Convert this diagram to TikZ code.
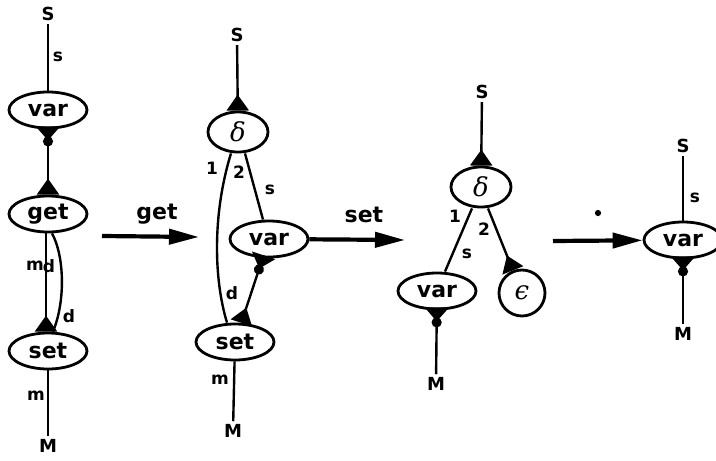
\documentclass[tikz,border=0pt]{standalone}
\usepackage{fontspec}
\setmainfont{DejaVu Sans}
\newfontfamily\grk{DejaVu Serif}
\usetikzlibrary{arrows.meta,shapes.geometric}
\tikzset{
  outtip/.tip={Circle[length=10pt,sep=-4pt] Triangle[reversed,width=24pt,length=14pt,sep=-3pt]},
  intip/.tip={Triangle[reversed,width=22pt,length=16pt]},
}
\begin{document}
\begin{tikzpicture}[x=1pt,y=-1pt,
  ell/.style={ellipse,draw,line width=2.8pt,minimum width=78pt,minimum height=36pt,inner sep=0pt,font=\fontsize{22}{24}\selectfont\bfseries},
  dell/.style={ell,minimum width=60pt,minimum height=40pt,font=\fontsize{26}{28}\selectfont\grk\itshape},
  ext/.style={inner sep=3pt,font=\fontsize{18}{20}\selectfont\bfseries},
  lab/.style={inner sep=0pt,font=\fontsize{17}{19}\selectfont\bfseries},
  wire/.style={line width=2.4pt},
  big/.style={line width=4.2pt,-{Triangle[width=15pt,length=30pt]}},
  blab/.style={inner sep=0pt,font=\fontsize{22}{24}\selectfont\bfseries},
]
\useasboundingbox (0,0) rectangle (716,461);
% ---------------- diagram 1
\node[ext] (S1) at (48,14) {S};
\node[ell] (var1) at (48,110) {var};
\node[ell] (get1) at (48,214) {get};
\node[ell] (set1) at (48,351) {set};
\node[ext] (M1) at (48,446) {M};
\draw[wire] (S1) -- (var1);
\draw[wire,outtip-intip] (var1) -- (get1);
\draw[wire,-intip] ([xshift=-2pt]get1.south) -- ([xshift=-2pt]set1.north);
\draw[wire] ([xshift=4pt]get1.south) .. controls (64,255) and (66,300) .. ([xshift=5pt]set1.north);
\draw[wire] (set1) -- (M1);
\node[lab] (l1s) at (58,57) {s};
\node[lab] (l1m) at (35,266) {m};
\node[lab] (l1d) at (49,266) {d};
\node[lab] (l1d2) at (69,316) {d};
\node[lab] (l1m2) at (36,396) {m};
% arrow get
\coordinate (g0) at (102,236);
\coordinate (g1) at (199,237);
\draw[big] (g0) -- (g1);
\node[blab] (lget) at (157,214) {get};
% ---------------- diagram 2
\node[ext] (S2) at (237,35) {S};
\node[dell] (d2) at (238,132) {δ};
\node[ell] (var2) at (269,239) {var};
\node[ell] (set2) at (235,342) {set};
\node[ext] (M2) at (233,431) {M};
\draw[wire,-intip] (S2) -- (d2);
\draw[wire] ([xshift=-7pt]d2.south) .. controls (212,215) and (214,280) .. ([xshift=-8pt]set2.north);
\draw[wire] ([xshift=7pt]d2.south) -- ([xshift=-6pt]var2.north);
\draw[wire,outtip-intip] (var2) -- (set2);
\draw[wire] (set2) -- (M2);
\node[lab] (l2a) at (212,168) {1};
\node[lab] (l2b) at (239,172) {2};
\node[lab] (l2s) at (270,190) {s};
\node[lab] (l2d) at (232,293) {d};
\node[lab] (l2m) at (220,380) {m};
% arrow set
\coordinate (s1) at (405,240);
\draw[big] (var2) -- (s1);
\node[blab] (lset) at (364,215) {set};
% ---------------- diagram 3
\node[ext] (S3) at (482,92) {S};
\node[dell] (d3) at (481,187) {δ};
\node[ell,minimum width=46pt,minimum height=46pt,font=\fontsize{26}{28}\selectfont\grk\itshape] (e3) at (522,293) {ϵ};
\node[ell] (var3) at (437,291) {var};
\node[ext] (M3) at (436,384) {M};
\draw[wire,-intip] (S3) -- (d3);
\draw[wire] ([xshift=-9pt]d3.south) -- ([xshift=8pt]var3.north);
\draw[wire,-intip] ([xshift=7pt]d3.south) -- (e3);
\draw[wire,outtip-] (var3) -- (M3);
\node[lab] (l3a) at (455,216) {1};
\node[lab] (l3b) at (484,229) {2};
\node[lab] (l3s) at (467,254) {s};
% arrow dot
\coordinate (t0) at (553,241);
\node[circle,fill,inner sep=2.2pt] (dot) at (598,213) {};
% ---------------- diagram 4
\node[ext] (S4) at (683,146) {S};
\node[ell] (var4) at (683,240) {var};
\node[ext] (M4) at (683,334) {M};
\draw[wire] (S4) -- (var4);
\draw[wire,outtip-] (var4) -- (M4);
\node[lab] (l4s) at (695,198) {s};
\draw[big] (t0) -- (var4);
\end{tikzpicture}
\end{document}
